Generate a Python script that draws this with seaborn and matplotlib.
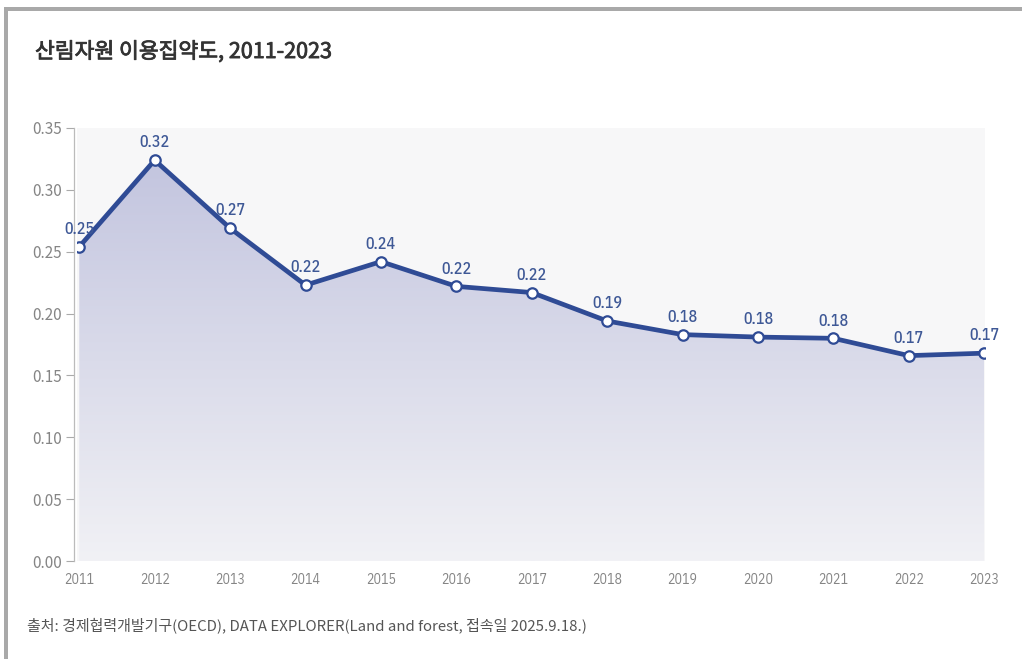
import numpy as np
import pandas as pd
import matplotlib
matplotlib.use("Agg")
import matplotlib.pyplot as plt
import matplotlib.patheffects as pe
from matplotlib.colors import LinearSegmentedColormap
from matplotlib.patches import Rectangle
import seaborn as sns

# Forest resource use intensity (OECD), 2011-2023
years = [2011, 2012, 2013, 2014, 2015, 2016, 2017, 2018, 2019, 2020, 2021, 2022, 2023]
intensity = [0.254, 0.324, 0.269, 0.223, 0.242, 0.222, 0.217, 0.194, 0.183, 0.181, 0.180, 0.166, 0.168]
y_ticks = [0.00, 0.05, 0.10, 0.15, 0.20, 0.25, 0.30, 0.35]

title = "산림자원 이용집약도, 2011-2023"
source = "출처: 경제협력개발기구(OECD), DATA EXPLORER(Land and forest, 접속일 2025.9.18.)"

sns.set_theme(style="white")
plt.rcParams["font.family"] = ["Noto Sans CJK KR", "DejaVu Sans"]
narrow = ["IBM Plex Sans Condensed", "DejaVu Sans"]

LINE = "#2f4b95"
LABEL = "#3e5896"
TICK = "#858585"

df = pd.DataFrame({"year": years, "value": intensity})

fig = plt.figure(figsize=(10.22, 6.59), dpi=100)
fig.patch.set_facecolor("white")
ax = fig.add_axes([77 / 1022, 1 - 561 / 659, (985 - 77) / 1022, (561 - 128) / 659])
ax.set_facecolor("#f7f7f8")

# gradient area under the line
xs = np.array(years, dtype=float)
ys = np.array(intensity)
poly = ax.fill_between(xs, ys, 0, color="none", lw=0)
cmap = LinearSegmentedColormap.from_list("area", ["#f1f1f5", "#c3c5df"])
grad = np.linspace(0, 1, 256).reshape(-1, 1)
img = ax.imshow(grad, extent=[xs.min(), xs.max(), 0, ys.max()], origin="lower",
                aspect="auto", cmap=cmap, zorder=1)
img.set_clip_path(poly.get_paths()[0], transform=ax.transData)

sns.lineplot(data=df, x="year", y="value", ax=ax, color=LINE, lw=3.4,
             marker="o", markersize=7.5, markerfacecolor="white",
             markeredgecolor=LINE, markeredgewidth=1.6, zorder=3)

for x, v in zip(years, intensity):
    ax.annotate(f"{v:.2f}", (x, v), xytext=(0, 7), textcoords="offset points",
                ha="center", va="bottom", fontsize=11.5, color=LABEL,
                family=narrow, weight="medium", zorder=4)

ax.set_xlim(2011 - 0.03, 2023 + 0.01)
ax.set_ylim(0, 0.35)
ax.set_xticks(years)
ax.set_xticklabels([str(y) for y in years], family=narrow, fontsize=10)
ax.set_yticks(y_ticks)
ax.set_yticklabels([f"{t:.2f}" for t in y_ticks], family=narrow, fontsize=9)
ax.tick_params(axis="x", length=0, pad=9, labelcolor=TICK)
ax.tick_params(axis="y", length=6, width=0.8, color="#aaaaaa", pad=3, left=True,
               labelcolor=TICK)
ax.set_xlabel("")
ax.set_ylabel("")
for s in ["top", "right", "bottom"]:
    ax.spines[s].set_visible(False)
ax.spines["left"].set_color("#bbbbbb")
ax.spines["left"].set_linewidth(0.9)
ax.spines["left"].set_position(("outward", 2))

fig.text(35 / 1022, 1 - 52 / 659, title, fontsize=15.5, color="#333333",
         weight="normal", va="center", ha="left",
         path_effects=[pe.withStroke(linewidth=0.6, foreground="#333333")])
fig.text(27 / 1022, 1 - 625 / 659, source, fontsize=10.8, color="#555555",
         va="center", ha="left")

# frame bars along top and left edge
fig.patches.append(Rectangle((5 / 1022, 1 - 11 / 659), 1 - 5 / 1022, 4 / 659,
                             transform=fig.transFigure, color="#a9a9a9", lw=0))
fig.patches.append(Rectangle((4 / 1022, 0), 4 / 1022, 1 - 7 / 659,
                             transform=fig.transFigure, color="#a9a9a9", lw=0))

fig.savefig("out.png", dpi=100, facecolor="white")
